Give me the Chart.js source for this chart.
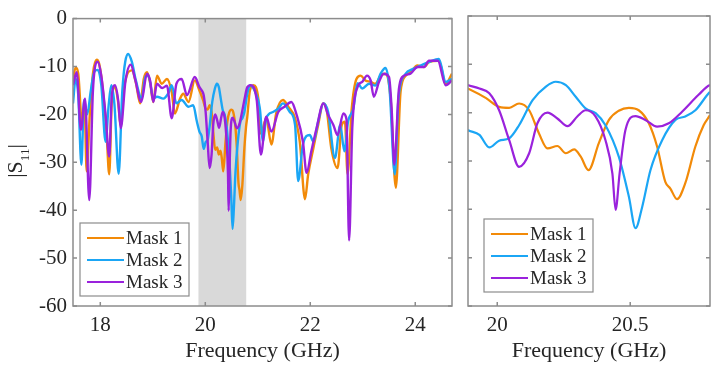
<!DOCTYPE html>
<html>
<head>
<meta charset="utf-8">
<script src="https://cdn.jsdelivr.net/npm/chart.js@4.4.1/dist/chart.umd.min.js"></script>
<style>
  html, body { margin: 0; padding: 0; background: #fff; }
  #wrap { position: relative; width: 714px; height: 371px; }
  #chartLeft { position: absolute; left: 0; top: 0; }
  #chartRight { position: absolute; left: 460px; top: 0; }
</style>
</head>
<body>
<div id="wrap">
  <canvas id="chartLeft" width="460" height="371"></canvas>
  <canvas id="chartRight" width="254" height="371"></canvas>
</div>
<script>
const seriesLabels = ['Mask 1', 'Mask 2', 'Mask 3'];
const seriesColors = ['#F28A08', '#1BA6F5', '#9A22DC'];

// Mask 1 (orange)
const mask1Freq = [17.48, 17.53, 17.58, 17.65, 17.70, 17.74, 17.80, 17.86, 17.93, 17.98, 18.05, 18.12, 18.17, 18.22, 18.28, 18.34, 18.39, 18.44, 18.50, 18.60, 18.68, 18.76, 18.83, 18.89, 18.95, 19.01, 19.08, 19.17, 19.27, 19.36, 19.42, 19.52, 19.58, 19.68, 19.80,
  19.889, 19.958, 20.007, 20.045, 20.082, 20.12, 20.157, 20.189, 20.226, 20.258, 20.289, 20.314, 20.343, 20.382, 20.42, 20.457, 20.495, 20.532, 20.57, 20.601, 20.632, 20.651, 20.676, 20.707, 20.745, 20.776, 20.80,
  20.85, 20.92, 21.01, 21.06, 21.16, 21.26, 21.35, 21.48, 21.58, 21.71, 21.80, 21.90, 21.96, 22.06, 22.15, 22.25, 22.31, 22.40, 22.52, 22.60, 22.66, 22.71, 22.79, 22.88, 22.96, 23.05, 23.15, 23.24, 23.34, 23.43, 23.53, 23.63, 23.72, 23.82, 23.91, 24.04, 24.17, 24.26, 24.45, 24.58, 24.70];
const mask1S11 = [-12.8, -10.2, -11.5, -21.5, -18.0, -31.9, -20.0, -11.5, -8.6, -9.5, -15.0, -24.0, -32.5, -17.0, -14.2, -17.5, -22.5, -15.5, -12.0, -10.8, -13.5, -17.7, -12.5, -11.2, -13.5, -17.4, -11.9, -13.6, -12.6, -15.3, -19.8, -16.7, -15.7, -17.4, -12.9,
  -15.0, -17.0, -18.8, -19.0, -18.1, -19.5, -24.3, -27.4, -26.9, -28.4, -27.6, -29.1, -31.9, -26.3, -21.5, -19.6, -19.0, -19.5, -22.2, -27.0, -34.3, -35.7, -37.9, -34.6, -27.0, -22.6, -20.5,
  -15.0, -13.9, -16.7, -24.0, -20.8, -26.3, -19.8, -17.0, -18.4, -20.8, -25.7, -37.7, -32.5, -27.0, -22.2, -17.7, -18.8, -27.0, -31.2, -22.2, -21.5, -32.5, -18.8, -12.6, -11.9, -12.9, -13.2, -13.6, -11.9, -11.5, -16.7, -35.3, -15.3, -11.9, -11.2, -9.8, -10.1, -9.1, -8.8, -13.6, -11.5];

// Mask 2 (blue)
const mask2Freq = [17.48, 17.53, 17.58, 17.64, 17.69, 17.75, 17.82, 17.89, 17.95, 18.02, 18.10, 18.16, 18.21, 18.27, 18.35, 18.42, 18.53, 18.60, 18.68, 18.79, 18.86, 18.92, 19.01, 19.08, 19.20, 19.30, 19.36, 19.45, 19.55, 19.68, 19.77, 19.84,
  19.889, 19.933, 19.97, 20.007, 20.045, 20.082, 20.133, 20.183, 20.22, 20.258, 20.295, 20.332, 20.37, 20.407, 20.457, 20.495, 20.52, 20.545, 20.576, 20.62, 20.67, 20.707, 20.745, 20.80,
  20.85, 20.95, 21.04, 21.10, 21.16, 21.29, 21.39, 21.48, 21.61, 21.71, 21.77, 21.86, 21.99, 22.06, 22.15, 22.25, 22.34, 22.47, 22.57, 22.65, 22.72, 22.82, 22.90, 22.99, 23.12, 23.24, 23.34, 23.43, 23.51, 23.61, 23.68, 23.82, 23.94, 24.10, 24.26, 24.45, 24.58, 24.70];
const mask2S11 = [-17.7, -12.6, -16.0, -30.5, -17.0, -20.0, -15.0, -11.0, -10.7, -14.0, -25.7, -18.0, -13.9, -18.0, -32.4, -15.0, -7.4, -9.0, -13.0, -16.7, -12.0, -12.0, -16.7, -16.3, -16.7, -15.5, -13.9, -17.7, -17.0, -18.4, -18.1, -21.5,
  -23.6, -24.6, -27.2, -25.8, -25.3, -22.6, -17.4, -14.6, -13.6, -14.3, -16.7, -19.1, -20.1, -22.6, -29.1, -37.4, -43.9, -39.5, -31.9, -25.7, -21.5, -20.8, -19.5, -15.7,
  -13.9, -15.3, -18.8, -25.7, -20.8, -19.5, -18.8, -17.7, -19.5, -22.2, -33.9, -26.3, -24.3, -25.7, -21.5, -17.7, -19.5, -29.1, -22.2, -27.7, -21.5, -18.8, -13.5, -14.6, -13.6, -14.0, -11.5, -10.3, -14.6, -32.5, -16.7, -11.5, -10.6, -9.8, -9.1, -8.4, -13.2, -12.6];

// Mask 3 (purple)
const mask3Freq = [17.48, 17.55, 17.63, 17.71, 17.79, 17.86, 17.95, 18.02, 18.10, 18.17, 18.22, 18.28, 18.34, 18.39, 18.48, 18.58, 18.66, 18.78, 18.89, 18.95, 19.01, 19.08, 19.18, 19.27, 19.36, 19.45, 19.55, 19.65, 19.80,
  19.889, 19.933, 19.97, 20.007, 20.045, 20.082, 20.12, 20.151, 20.189, 20.226, 20.264, 20.301, 20.332, 20.37, 20.407, 20.433, 20.445, 20.46, 20.482, 20.52, 20.557, 20.601, 20.645, 20.695, 20.757, 20.80,
  20.86, 20.98, 21.06, 21.16, 21.26, 21.39, 21.51, 21.64, 21.74, 21.86, 21.93, 22.02, 22.12, 22.25, 22.34, 22.44, 22.52, 22.63, 22.69, 22.74, 22.80, 22.90, 22.99, 23.08, 23.15, 23.21, 23.31, 23.40, 23.50, 23.55, 23.60, 23.69, 23.79, 23.91, 24.04, 24.17, 24.26, 24.43, 24.58, 24.70];
const mask3S11 = [-13.9, -11.2, -23.2, -16.7, -37.9, -15.0, -9.0, -12.0, -20.0, -28.8, -16.0, -13.9, -17.0, -22.9, -13.0, -9.6, -12.5, -17.4, -11.5, -13.0, -17.4, -13.6, -14.5, -14.0, -20.8, -13.6, -12.6, -16.0, -12.2,
  -14.3, -15.0, -16.0, -19.5, -25.7, -31.2, -28.4, -22.2, -20.0, -21.2, -22.8, -20.8, -19.5, -20.8, -25.7, -32.6, -40.1, -32.6, -23.6, -20.7, -21.5, -22.9, -22.2, -19.8, -16.3, -14.3,
  -13.9, -17.0, -28.4, -20.5, -23.6, -19.5, -18.4, -17.4, -20.1, -25.7, -32.2, -27.7, -22.9, -17.7, -20.1, -22.2, -24.3, -19.8, -21.0, -46.3, -22.9, -14.3, -13.2, -11.9, -12.9, -16.3, -13.2, -11.5, -12.2, -18.8, -30.5, -14.6, -11.9, -11.5, -10.1, -10.1, -8.8, -8.8, -13.9, -12.9];

const fullRange = [17.48, 24.7];
const zoomRange = [19.89, 20.8];
const shadeBand = [19.87, 20.78];
const xTicksFull = [18, 20, 22, 24];
const xTicksZoom = [20, 20.5];
const yTicks = [0, -10, -20, -30, -40, -50, -60];

const FONT = "'Liberation Serif', 'Times New Roman', serif";
const TEXT = '#262626';
const AXIS = '#8c8c8c';

Chart.defaults.font.family = FONT;
Chart.defaults.color = TEXT;

function toPoints(freq, vals) {
    return freq.map((f, i) => ({ x: f, y: vals[i] }));
}

function makeDatasets(lineWidth) {
    const all = [[mask1Freq, mask1S11], [mask2Freq, mask2S11], [mask3Freq, mask3S11]];
    return all.map(([f, v], i) => ({
        label: seriesLabels[i],
        data: toPoints(f, v),
        borderColor: seriesColors[i],
        backgroundColor: seriesColors[i],
        borderWidth: lineWidth,
        pointRadius: 0,
        cubicInterpolationMode: 'monotone',
        order: 2 - i
    }));
}

// gray band, box frame and inward ticks like the original figure
const framePlugin = {
    id: 'frame',
    beforeDatasetsDraw(chart, args, opts) {
        if (!opts.band) return;
        const { ctx, chartArea: a, scales: { x } } = chart;
        const x0 = x.getPixelForValue(opts.band[0]);
        const x1 = x.getPixelForValue(opts.band[1]);
        ctx.save();
        ctx.fillStyle = '#d9d9d9';
        ctx.fillRect(x0, a.top, x1 - x0, a.bottom - a.top);
        ctx.restore();
    },
    afterDatasetsDraw(chart) {
        const { ctx, chartArea: a, scales: { x, y } } = chart;
        const len = 4;
        ctx.save();
        ctx.strokeStyle = AXIS;
        ctx.lineWidth = 1.5;
        ctx.strokeRect(a.left, a.top, a.right - a.left, a.bottom - a.top);
        ctx.beginPath();
        x.ticks.forEach(t => {
            const px = x.getPixelForValue(t.value);
            ctx.moveTo(px, a.bottom); ctx.lineTo(px, a.bottom - len);
            ctx.moveTo(px, a.top); ctx.lineTo(px, a.top + len);
        });
        y.ticks.forEach(t => {
            const py = y.getPixelForValue(t.value);
            ctx.moveTo(a.left, py); ctx.lineTo(a.left + len, py);
            ctx.moveTo(a.right, py); ctx.lineTo(a.right - len, py);
        });
        ctx.stroke();
        ctx.restore();
    }
};

const boxLegend = {
    id: 'boxLegend',
    afterDraw(chart, args, opts) {
        const { ctx } = chart;
        const left = opts.left, top = opts.top;
        const w = 109, h = 73, rowH = 22;
        ctx.save();
        ctx.fillStyle = '#fff';
        ctx.fillRect(left, top, w, h);
        ctx.strokeStyle = AXIS;
        ctx.lineWidth = 1.2;
        ctx.strokeRect(left, top, w, h);
        ctx.font = '19px ' + FONT;
        ctx.textBaseline = 'middle';
        chart.data.datasets.forEach((ds, i) => {
            const cy = top + 15 + i * rowH;
            ctx.strokeStyle = ds.borderColor;
            ctx.lineWidth = 2;
            ctx.beginPath();
            ctx.moveTo(left + 7, cy);
            ctx.lineTo(left + 44, cy);
            ctx.stroke();
            ctx.fillStyle = TEXT;
            ctx.fillText(ds.label, left + 46, cy + 1);
        });
        ctx.restore();
    }
};

// |S11| with a real subscript
const yLabel = {
    id: 'yLabel',
    afterDraw(chart, args, opts) {
        if (!opts.show) return;
        const { ctx } = chart;
        const big = '22px ' + FONT, small = '13px ' + FONT;
        ctx.save();
        ctx.translate(opts.x, opts.y);
        ctx.rotate(-Math.PI / 2);
        ctx.fillStyle = TEXT;
        ctx.textBaseline = 'alphabetic';
        ctx.font = big;
        const w1 = ctx.measureText('|S').width;
        const w3 = ctx.measureText('|').width;
        ctx.font = small;
        const w2 = ctx.measureText('11').width;
        let x = -(w1 + w2 + w3) / 2;
        ctx.font = big;
        ctx.fillText('|S', x, 0);
        x += w1;
        ctx.font = small;
        ctx.fillText('11', x, 7);
        x += w2;
        ctx.font = big;
        ctx.fillText('|', x, 0);
        ctx.restore();
    }
};

function buildOptions(range, xTicks, showYLabels, padRight, extra) {
    return {
        responsive: false,
        animation: false,
        layout: { padding: { top: 16, right: padRight, left: 0, bottom: 0 } },
        scales: {
            x: {
                type: 'linear',
                min: range[0],
                max: range[1],
                afterBuildTicks: (scale) => { scale.ticks = xTicks.map(v => ({ value: v })); },
                afterFit: (scale) => { scale.height = 65; },
                grid: { display: false, drawTicks: false },
                border: { display: false },
                ticks: { color: TEXT, font: { size: 21 }, padding: 7, maxRotation: 0, autoSkip: false,
                         callback: (v) => String(v) },
                title: { display: true, text: 'Frequency (GHz)', color: TEXT, font: { size: 22 },
                         padding: { top: 0, bottom: 7 } }
            },
            y: {
                min: -60,
                max: 0,
                afterBuildTicks: (scale) => { scale.ticks = yTicks.map(v => ({ value: v })); },
                afterFit: (scale) => { scale.width = showYLabels ? 73 : 8; },
                grid: { display: false, drawTicks: false },
                border: { display: false },
                ticks: { display: showYLabels, color: TEXT, font: { size: 21 }, padding: 6,
                         callback: (v) => String(v) }
            }
        },
        plugins: Object.assign({
            legend: { display: false },
            tooltip: { enabled: false }
        }, extra)
    };
}

new Chart(document.getElementById('chartLeft'), {
    type: 'line',
    data: { datasets: makeDatasets(2.4) },
    options: buildOptions(fullRange, xTicksFull, true, 8, {
        frame: { band: shadeBand },
        boxLegend: { left: 80, top: 223 },
        yLabel: { show: true, x: 22, y: 161 }
    }),
    plugins: [framePlugin, boxLegend, yLabel]
});

new Chart(document.getElementById('chartRight'), {
    type: 'line',
    data: { datasets: makeDatasets(2.2) },
    options: buildOptions(zoomRange, xTicksZoom, false, 4, {
        frame: { band: null },
        boxLegend: { left: 24, top: 219 },
        yLabel: { show: false }
    }),
    plugins: [framePlugin, boxLegend, yLabel]
});
</script>
</body>
</html>
